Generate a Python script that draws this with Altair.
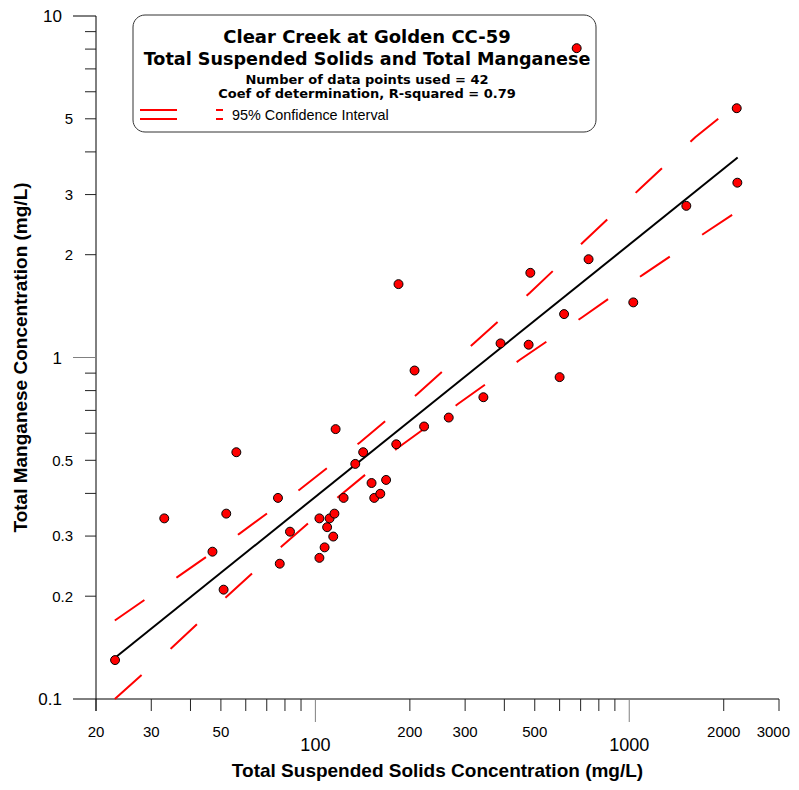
import altair as alt
import pandas as pd

# ---- data ----
tss = [23, 33, 47, 51, 52, 56, 76, 77, 83, 103, 103, 107, 109, 111, 114, 115, 116,
       123, 134, 142, 151, 154, 161, 168, 181, 184, 207, 222, 266, 343, 389, 478,
       484, 600, 620, 680, 742, 1030, 1520, 2200, 2210]
mn = [0.130, 0.338, 0.270, 0.209, 0.349, 0.528, 0.388, 0.249, 0.309, 0.338, 0.259,
      0.278, 0.3185, 0.338, 0.299, 0.349, 0.617, 0.388, 0.488, 0.528, 0.429, 0.388,
      0.399, 0.438, 0.557, 1.64, 0.916, 0.628, 0.667, 0.765, 1.10, 1.09, 1.77, 0.876,
      1.34, 8.05, 1.94, 1.45, 2.78, 5.37, 3.25]

fit_tss = [23, 2215]
fit_mn = [0.132, 3.85]

upper_tss = [22.96, 36.3, 57.2, 89.2, 138.6, 211.7, 320, 482.6, 722.5, 1082, 1623, 2215]
upper_mn = [0.1698, 0.2274, 0.3046, 0.4108, 0.5638, 0.7829, 1.101, 1.547, 2.201, 3.119, 4.417, 5.55]
lower_tss = [22.96, 34.6, 51.9, 78.0, 118.8, 181.5, 285.2, 448.4, 708.4, 1116, 1769, 2215]
lower_mn = [0.1, 0.1403, 0.1987, 0.2796, 0.3917, 0.5403, 0.7318, 0.9846, 1.312, 1.758, 2.339, 2.682]

x_minor_ticks = [20, 30, 40, 50, 60, 70, 80, 90, 200, 300, 400, 500, 600, 700, 800, 900, 2000, 3000]
x_major_ticks = [100, 1000]
x_minor_labels = [20, 30, 50, 200, 300, 500, 2000]
x_edge_labels = [3000]
x_major_labels = [100, 1000]

y_minor_ticks = [0.2, 0.3, 0.4, 0.5, 0.6, 0.7, 0.8, 0.9, 2, 3, 4, 5, 6, 7, 8, 9]
y_major_ticks_gray = [1]
y_major_ticks_black = [10]
y_minor_labels = [0.2, 0.3, 0.5, 2, 3, 5]
y_major_labels = [0.1, 1, 10]

title1 = "Clear Creek at Golden CC-59"
title2 = "Total Suspended Solids and Total Manganese"
title3 = "Number of data points used = 42"
title4 = "Coef of determination, R-squared = 0.79"
legend_label = "95% Confidence Interval"
x_title = "Total Suspended Solids Concentration (mg/L)"
y_title = "Total Manganese Concentration (mg/L)"

W = 683
H = 683
xs = alt.Scale(type="log", domain=[20, 3000], nice=False)
ys = alt.Scale(type="log", domain=[0.1, 10], nice=False)
one = pd.DataFrame({"k": [0]})
FONT = "Liberation Sans"
TFONT = "DejaVu Sans"


def lbl(v):
    return f"{v:g}"


def xrules(vals, y0, y1, color):
    return alt.Chart(pd.DataFrame({"v": vals})).mark_rule(color=color, strokeWidth=1).encode(
        x=alt.X("v:Q", scale=xs, axis=None), y=alt.value(y0), y2=alt.value(y1))


def yrules(vals, x0, x1, color):
    return alt.Chart(pd.DataFrame({"v": vals})).mark_rule(color=color, strokeWidth=1).encode(
        y=alt.Y("v:Q", scale=ys, axis=None), x=alt.value(x0), x2=alt.value(x1))


def xlabels(vals, ypos, size, align="center", dx=0):
    df = pd.DataFrame({"v": vals, "t": [lbl(v) for v in vals]})
    return alt.Chart(df).mark_text(font=FONT, fontSize=size, color="black", baseline="alphabetic",
                                   align=align, dx=dx).encode(
        x=alt.X("v:Q", scale=xs, axis=None), y=alt.value(ypos), text="t:N")


def ylabels(vals, xpos, size):
    df = pd.DataFrame({"v": vals, "t": [lbl(v) for v in vals]})
    return alt.Chart(df).mark_text(font=FONT, fontSize=size, color="black", baseline="alphabetic",
                                   align="right", dy=round(size * 0.36, 1)).encode(
        y=alt.Y("v:Q", scale=ys, axis=None), x=alt.value(xpos), text="t:N")


def txt(s, x, y, size, weight="normal", font=FONT, align="center", angle=0):
    kw = dict(font=font, fontSize=size, fontWeight=weight, color="black", align=align,
              baseline="alphabetic")
    if angle:
        kw["angle"] = angle
    return alt.Chart(one).mark_text(**kw).encode(
        x=alt.value(x), y=alt.value(y), text=alt.value(s))


def seg(x0, x1, y, color="red", width=2):
    return alt.Chart(one).mark_rule(color=color, strokeWidth=width).encode(
        x=alt.value(x0), x2=alt.value(x1), y=alt.value(y))


# legend box
box = alt.Chart(one).mark_rect(fill="white", stroke="#333333", strokeWidth=1, cornerRadius=12).encode(
    x=alt.value(37), x2=alt.value(500), y=alt.value(-1), y2=alt.value(116))

# axes lines
x_axis_line = alt.Chart(one).mark_rule(color="black", strokeWidth=1).encode(
    x=alt.value(-23), x2=alt.value(W), y=alt.value(H))
y_axis_line = alt.Chart(one).mark_rule(color="black", strokeWidth=1).encode(
    x=alt.value(0), y=alt.value(0), y2=alt.value(H + 12))

upper_df = pd.DataFrame({"x": upper_tss, "y": upper_mn})
lower_df = pd.DataFrame({"x": lower_tss, "y": lower_mn})
fit_df = pd.DataFrame({"x": fit_tss, "y": fit_mn})
pts_df = pd.DataFrame({"x": tss, "y": mn})

ci_upper = alt.Chart(upper_df).mark_line(color="red", strokeWidth=2, strokeDash=[36, 39]).encode(
    x=alt.X("x:Q", scale=xs, axis=None), y=alt.Y("y:Q", scale=ys, axis=None))
ci_lower = alt.Chart(lower_df).mark_line(color="red", strokeWidth=2, strokeDash=[36, 39]).encode(
    x=alt.X("x:Q", scale=xs, axis=None), y=alt.Y("y:Q", scale=ys, axis=None))
fit_line = alt.Chart(fit_df).mark_line(color="black", strokeWidth=2).encode(
    x=alt.X("x:Q", scale=xs, axis=None), y=alt.Y("y:Q", scale=ys, axis=None))
points = alt.Chart(pts_df).mark_point(shape="circle", filled=True, fill="#ff0000", stroke="black",
                                      strokeWidth=1, size=80, opacity=1).encode(
    x=alt.X("x:Q", scale=xs, axis=None), y=alt.Y("y:Q", scale=ys, axis=None))

layers = [
    box,
    txt(title1, 271, 27, 18, "bold", TFONT),
    txt(title2, 271, 49, 17.6, "bold", TFONT),
    txt(title3, 271, 68, 13, "bold", TFONT),
    txt(title4, 271, 82, 13, "bold", TFONT),
    seg(44, 81, 94), seg(44, 81, 103),
    seg(120, 127, 94), seg(120, 127, 103),
    txt(legend_label, 136, 104, 14.4, "normal", FONT, "left"),
    x_axis_line, y_axis_line,
    xrules(x_minor_ticks, H, H + 12, "#222222"),
    xrules(x_major_ticks, H, H + 23, "#808080"),
    yrules(y_minor_ticks, -11, 0, "#222222"),
    yrules(y_major_ticks_gray, -23, 0, "#808080"),
    yrules(y_major_ticks_black, -23, 0, "black"),
    xlabels(x_minor_labels, 721, 15),
    xlabels(x_edge_labels, 721, 15, "right", 11),
    xlabels(x_major_labels, 735, 18),
    ylabels(y_minor_labels, -23, 15),
    ylabels(y_major_labels, -34, 17),
    txt(x_title, W / 2, 761, 19, "bold"),
    txt(y_title, -69, H / 2, 19, "bold", FONT, "center", 270),
    ci_upper, ci_lower, fit_line, points,
]

chart = alt.layer(*layers).properties(
    width=W, height=H,
    autosize=alt.AutoSizeParams(type="none"),
    padding={"left": 88, "top": 8, "right": 12, "bottom": 83},
).configure_view(stroke=None)

chart.save("out.html", embed_options={"renderer": "svg", "actions": False})
